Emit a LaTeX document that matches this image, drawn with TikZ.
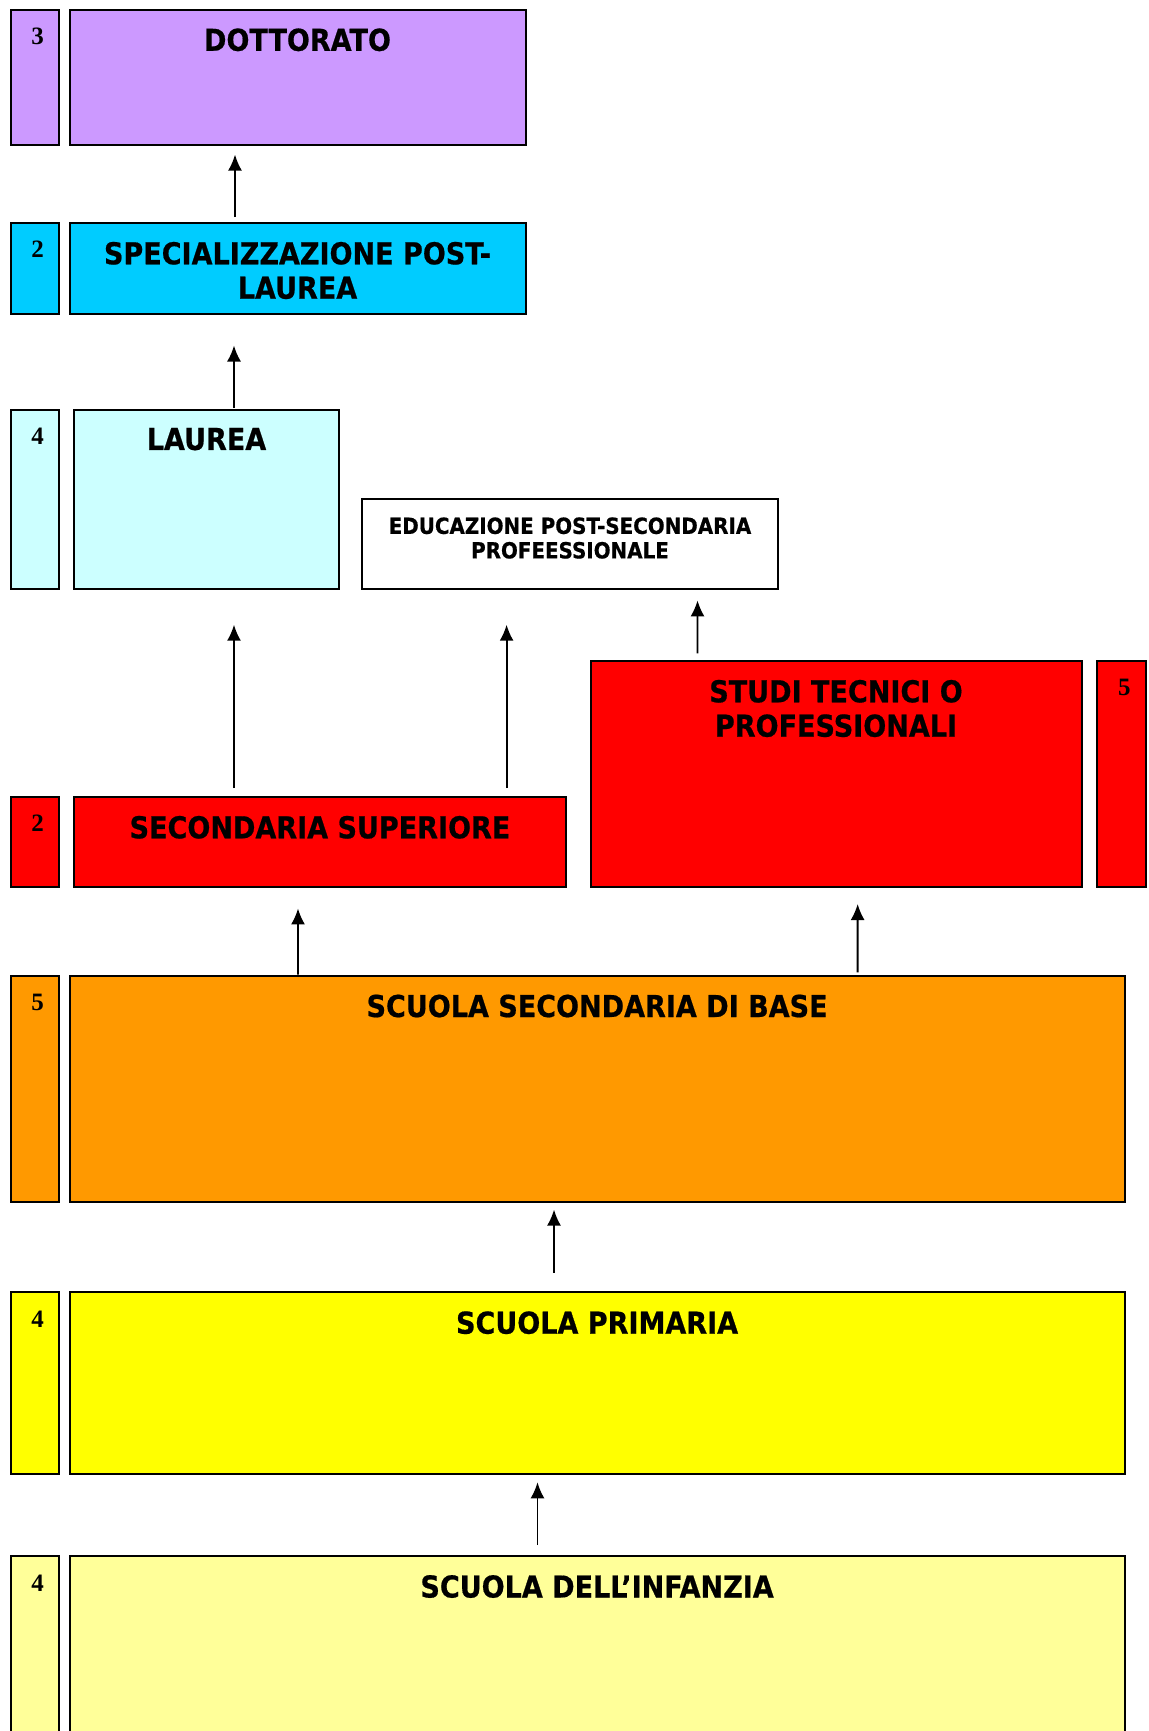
\documentclass[tikz,border=0pt]{standalone}
\usepackage{fontspec}
\setmainfont{DejaVu Sans}
\newfontfamily\labfont{DejaVu Sans}[FakeStretch=0.895, BoldFeatures={FakeBold=0.6}]
\newfontfamily\numfont{Liberation Serif}
\usetikzlibrary{calc,arrows.meta}
\definecolor{purp}{HTML}{CC99FF}
\definecolor{cyanb}{HTML}{00CCFF}
\definecolor{palecyan}{HTML}{CCFFFF}
\definecolor{redb}{HTML}{FF0000}
\definecolor{orangeb}{HTML}{FF9900}
\definecolor{yellowb}{HTML}{FFFF00}
\definecolor{paleyellow}{HTML}{FFFF99}
\tikzset{
  boxst/.style={draw=black, line width=1pt, inner sep=0pt, outer sep=0pt, rectangle},
  lab/.style={font=\labfont\bfseries\fontsize{15.1}{17.2}\selectfont, align=center, anchor=north, inner sep=0pt},
  smalllab/.style={font=\labfont\bfseries\fontsize{11.1}{12.25}\selectfont, align=center, anchor=north, inner sep=0pt},
  num/.style={font=\numfont\bfseries\fontsize{12.5}{14}\selectfont, anchor=north, inner sep=0pt},
  arr/.style={-{Latex[length=8pt,width=7pt]}, line width=0.9pt},
}
\newcommand\mybox[6]{%
  \node[boxst, fill=#2, minimum width={(#5-#3)*0.5pt}, minimum height={(#6-#4)*0.5pt}, anchor=north west] (#1) at (#3,#4) {};}
\begin{document}
\begin{tikzpicture}[x=0.5pt, y=-0.5pt]
\clip (0,0) rectangle (1149,1731);
\fill[white] (0,0) rectangle (1149,1731);
% boxes
\mybox{n3}{purp}{11}{10}{58.5}{144.6}
\mybox{dott}{purp}{69.5}{10}{525.5}{144.6}
\mybox{n2a}{cyanb}{11}{223}{58.5}{313.5}
\mybox{spec}{cyanb}{69.5}{223}{525.5}{313.5}
\mybox{n4a}{palecyan}{11}{409.5}{58.5}{589.4}
\mybox{laurea}{palecyan}{74}{409.5}{339}{589.4}
\mybox{edu}{white}{362}{499}{778}{589.4}
\mybox{n2b}{redb}{11}{797}{58.5}{887.4}
\mybox{secsup}{redb}{74}{797}{566}{887.4}
\mybox{studi}{redb}{590.5}{661}{1081.6}{887.4}
\mybox{n5a}{redb}{1097}{661}{1145.6}{887.4}
\mybox{n5b}{orangeb}{11}{975.7}{58.5}{1202}
\mybox{ssb}{orangeb}{69.5}{975.7}{1124.7}{1202}
\mybox{n4b}{yellowb}{11}{1292.4}{58.5}{1473.5}
\mybox{prim}{yellowb}{69.5}{1292.4}{1124.7}{1473.5}
\mybox{n4c}{paleyellow}{11}{1556.2}{58.5}{1760}
\mybox{inf}{paleyellow}{69.5}{1556.2}{1124.7}{1760}
% numbers
\node[num] (t3) at ($(n3.north)+(3,18)$) {3};
\node[num] (t2a) at ($(n2a.north)+(3,18)$) {2};
\node[num] (t4a) at ($(n4a.north)+(3,18)$) {4};
\node[num] (t2b) at ($(n2b.north)+(3,18)$) {2};
\node[num] (t5a) at ($(n5a.north)+(3,18)$) {5};
\node[num] (t5b) at ($(n5b.north)+(3,18)$) {5};
\node[num] (t4b) at ($(n4b.north)+(3,18)$) {4};
\node[num] (t4c) at ($(n4c.north)+(3,18)$) {4};
% labels
\node[lab] (ldott) at ($(dott.north)+(0,18)$) {DOTTORATO};
\node[lab] (lspec) at ($(spec.north)+(0,18.5)$) {SPECIALIZZAZIONE POST-\\LAUREA};
\node[lab] (llaur) at ($(laurea.north)+(0,18)$) {LAUREA};
\node[smalllab] (ledu) at ($(edu.north)+(0,18)$) {EDUCAZIONE POST-SECONDARIA\\PROFEESSIONALE};
\node[lab] (lsec) at ($(secsup.north)+(0,18.5)$) {SECONDARIA SUPERIORE};
\node[lab] (lstu) at ($(studi.north)+(0,18.5)$) {STUDI TECNICI O\\PROFESSIONALI};
\node[lab] (lssb) at ($(ssb.north)+(0,18.5)$) {SCUOLA SECONDARIA DI BASE};
\node[lab] (lpri) at ($(prim.north)+(0,18.5)$) {SCUOLA PRIMARIA};
\node[lab] (linf) at ($(inf.north)+(0,18.5)$) {SCUOLA DELL’INFANZIA};
% arrows
\draw[arr] ($(spec.north)+(-62.5,-6)$) -- ($(dott.south)+(-62.5,10)$);
\draw[arr] ($(laurea.north)+(27.5,-1.5)$) -- ($(spec.south)+(-63.5,32)$);
\draw[arr] ($(secsup.north)+(-86,-9)$) -- ($(laurea.south)+(27.5,35.3)$);
\draw[arr] ($(secsup.north)+(186.6,-9)$) -- ($(edu.south)+(-63.4,35.3)$);
\draw[arr] ($(studi.north)+(-138.5,-7.6)$) -- ($(edu.south)+(127.5,11)$);
\draw[arr] ($(ssb.north)+(-299.1,-1.1)$) -- ($(secsup.south)+(-22,21)$);
\draw[arr] ($(ssb.north)+(260.5,-3.3)$) -- ($(studi.south)+(21.6,16.6)$);
\draw[arr] ($(prim.north)+(-43.1,-19.8)$) -- ($(ssb.south)+(-43.1,7.6)$);
\draw[arr] ($(inf.north)+(-59.6,-11)$) -- ($(prim.south)+(-59.6,8.8)$);
\end{tikzpicture}
\end{document}
